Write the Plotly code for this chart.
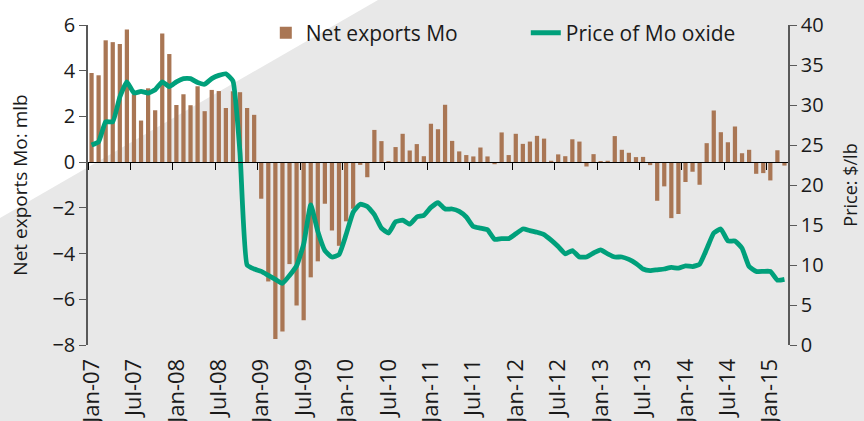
import pandas as pd
import plotly.graph_objects as go

# monthly data, Jan-07 .. Mar-15
months = pd.date_range("2007-01-01", periods=99, freq="MS")

net_exports = [
    3.90, 3.80, 5.33, 5.25, 5.17, 5.80, 2.97, 1.82, 3.23, 2.27, 5.63, 4.73,
    2.50, 2.97, 2.49, 3.32, 2.23, 3.16, 3.11, 2.37, 3.10, 3.06, 2.37, 2.07,
    -1.60, -5.22, -7.74, -7.41, -4.46, -6.27, -6.92, -5.04, -4.34, -1.82, -2.99, -3.66,
    -2.59, -2.04, -0.12, -0.66, 1.41, 0.92, 0.02, 0.66, 1.24, 0.51, 0.79, 0.26,
    1.68, 1.44, 2.51, 0.93, 0.47, 0.31, 0.25, 0.64, 0.25, -0.09, 1.30, 0.31,
    1.24, 0.80, 0.90, 1.15, 1.03, 0.06, 0.34, 0.26, 1.00, 0.90, -0.19, 0.35,
    0.04, 0.06, 1.14, 0.54, 0.41, 0.22, 0.23, -0.13, -1.69, -1.06, -2.45, -2.27,
    -0.87, -0.42, -0.99, 0.83, 2.26, 1.31, 0.87, 1.56, 0.39, 0.54, -0.51, -0.48,
    -0.80, 0.52, -0.15,
]

mo_price = [
    25.0, 25.4, 27.9, 27.9, 31.0, 32.9, 31.5, 31.7, 31.5, 31.9, 32.9, 32.3,
    32.9, 33.3, 33.3, 32.8, 32.6, 33.3, 33.7, 33.9, 33.0, 24.0, 10.0, 9.5,
    9.2, 8.7, 8.2, 7.7, 8.7, 9.9, 12.6, 17.5, 14.2, 11.8, 11.0, 11.3,
    13.8, 16.6, 17.6, 17.3, 16.3, 14.6, 14.0, 15.4, 15.6, 15.1, 16.0, 16.2,
    17.2, 17.8, 17.0, 17.0, 16.7, 16.0, 14.8, 14.6, 14.4, 13.2, 13.3, 13.3,
    13.9, 14.5, 14.3, 14.1, 13.8, 13.1, 12.3, 11.4, 11.8, 11.0, 11.0, 11.5,
    11.9, 11.4, 11.0, 11.0, 10.7, 10.2, 9.5, 9.3, 9.4, 9.5, 9.7, 9.6,
    9.9, 9.8, 10.1, 12.0, 14.0, 14.5, 13.0, 13.0, 12.1, 9.8, 9.2, 9.2,
    9.2, 8.1, 8.2,
]

left_range = [-8, 6]
right_range = [0, 40]

x = list(range(len(months)))
label_idx = [i for i in x if months[i].month in (1, 7)]
label_text = [months[i].strftime("%b-%y") for i in label_idx]
boundary_ticks = [i - 0.5 for i in label_idx]

BAR = "#A97654"
LINE = "#00A07B"
AXIS = "#595959"
BG = "#E8E8E8"
FONT = "Open Sans"

W, H = 864, 421
ML, MR, MT, MB = 88, 76, 25, 76
pw, ph = W - ML - MR, H - MT - MB


def to_paper(px, py):
    return (px - ML) / pw, (H - MB - py) / ph


fig = go.Figure()
fig.add_trace(go.Bar(x=x, y=net_exports, name="Net exports Mo",
                     marker=dict(color=BAR, line=dict(width=0)),
                     xaxis="x", yaxis="y"))
fig.add_trace(go.Scatter(x=x, y=mo_price, name="Price of Mo oxide", mode="lines",
                         line=dict(color=LINE, width=4.8, shape="spline", smoothing=0.4),
                         xaxis="x2", yaxis="y2"))

# white triangle in upper-left corner of the background
p0 = to_paper(0, 0)
p1 = to_paper(378, 0)
p2 = to_paper(0, 218)
fig.add_shape(type="path", xref="paper", yref="paper", layer="below",
              path=f"M {p0[0]},{p0[1]} L {p1[0]},{p1[1]} L {p2[0]},{p2[1]} Z",
              fillcolor="white", line=dict(width=0))

zero_pos = (0 - left_range[0]) / (left_range[1] - left_range[0])
xr = [-0.5, len(x) - 0.5]
tick_font = dict(size=20)

fig.update_layout(
    width=W, height=H,
    margin=dict(l=ML, r=MR, t=MT, b=MB, autoexpand=False),
    paper_bgcolor=BG, plot_bgcolor="rgba(0,0,0,0)",
    font=dict(family=FONT, size=20, color="#1a1a1a"),
    bargap=0.4,
    showlegend=True,
    legend=dict(orientation="h", x=0.254, y=0.975, xanchor="left", yanchor="middle",
                bgcolor="rgba(0,0,0,0)", font=dict(size=21), entrywidth=215,
                itemsizing="constant"),
    xaxis=dict(range=xr, anchor="free", position=zero_pos, showline=True,
               linecolor="black", linewidth=1, ticks="outside", ticklen=7,
               tickcolor="black", tickvals=boundary_ticks, showticklabels=False,
               showgrid=False, zeroline=False, automargin=False),
    xaxis2=dict(range=xr, overlaying="x", anchor="y2", side="bottom", showline=False,
                tickvals=label_idx, ticktext=label_text, tickangle=-90, tickfont=dict(size=22),
                ticks="outside", ticklen=4, tickcolor="rgba(0,0,0,0)",
                showgrid=False, zeroline=False, automargin=False),
    yaxis=dict(range=left_range, dtick=2, showline=True, linecolor=AXIS, linewidth=1.5,
               ticks="outside", ticklen=7, tickcolor=AXIS, showgrid=False, zeroline=False,
               tickfont=tick_font, automargin=False,
               title=dict(text="Net exports Mo: mlb", standoff=20, font=dict(size=19))),
    yaxis2=dict(range=right_range, dtick=5, overlaying="y", side="right", anchor="x2",
                showline=True, linecolor=AXIS, linewidth=1.5, ticks="outside", ticklen=7,
                tickcolor=AXIS, showgrid=False, zeroline=False, tickfont=tick_font,
                automargin=False,
                title=dict(text="Price: $/lb", standoff=22, font=dict(size=18))),
)

# drop the browser's default page margin so the figure sits at the window corner
fig.write_html("out.html", config={"displayModeBar": False},
               post_script="document.body.style.margin='0px';"
                           f"document.body.style.background='{BG}';")
